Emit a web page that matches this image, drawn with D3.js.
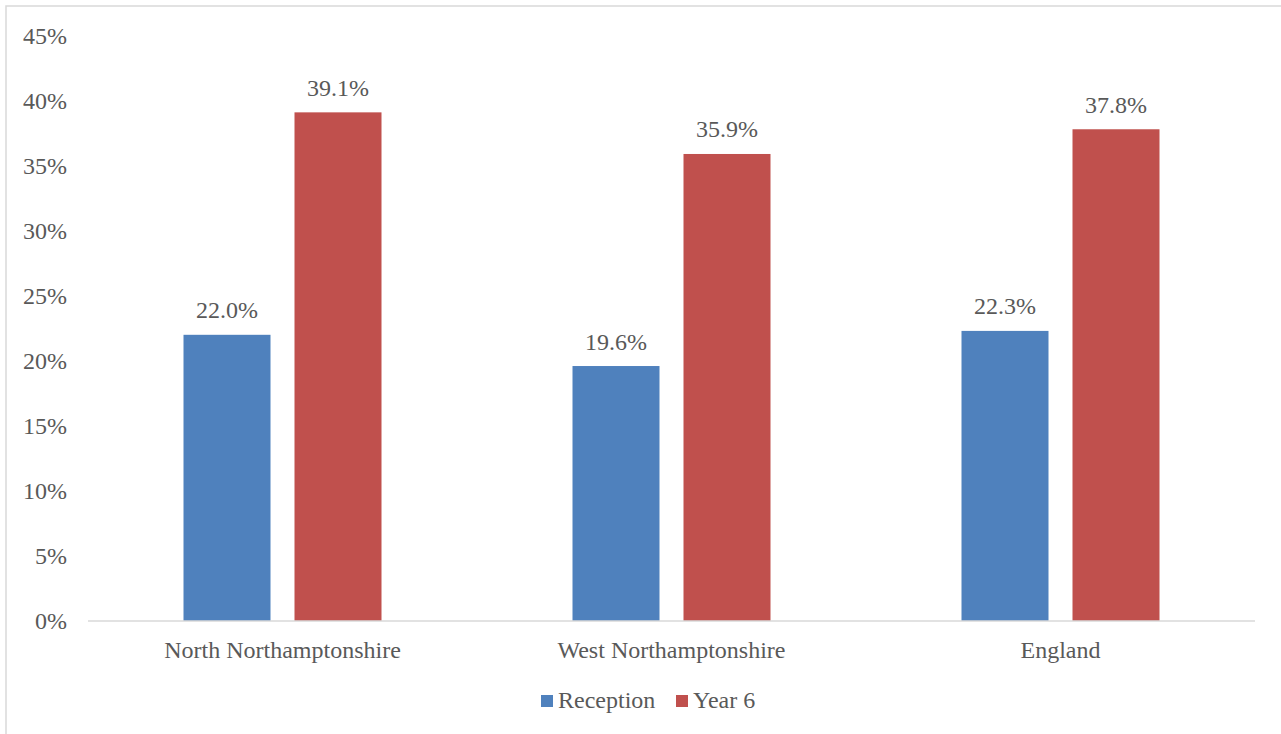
<!DOCTYPE html>
<html>
<head>
<meta charset="utf-8">
<script src="https://cdn.jsdelivr.net/npm/d3@7"></script>
<style>
  html, body { margin: 0; padding: 0; background: #fff; }
  svg { display: block; }
  text { font-family: "Liberation Serif", "Times New Roman", serif; fill: #595959; }
</style>
</head>
<body>
<svg id="chart" width="1281" height="734"></svg>
<script>
const categories = ["North Northamptonshire", "West Northamptonshire", "England"];
const seriesNames = ["Reception", "Year 6"];
const reception = [22.0, 19.6, 22.3];
const year6 = [39.1, 35.9, 37.8];
const yTicks = [0, 5, 10, 15, 20, 25, 30, 35, 40, 45];
const colors = ["#4F81BD", "#C0504D"];

const svg = d3.select("#chart");
const W = 1281, H = 734;

// outer border
svg.append("rect").attr("x", 6).attr("y", 6).attr("width", W + 10).attr("height", H + 10)
  .attr("fill", "none").attr("stroke", "#d9d9d9").attr("stroke-width", 1.5);

const plot = { left: 88, right: 1255, top: 35.6, bottom: 621 };

const x = d3.scaleBand().domain(categories).range([plot.left, plot.right]).paddingInner(0).paddingOuter(0);
const y = d3.scaleLinear().domain([0, 45]).range([plot.bottom, plot.top]);
const barW = 87, gap = 24;
const groupW = 2 * barW + gap;
const xs = d3.scaleBand().domain(seriesNames).range([0, groupW])
  .paddingInner(gap / (barW + gap)).paddingOuter(0);

const data = categories.map((c, i) => ({ cat: c, vals: [reception[i], year6[i]] }));

// y tick labels
svg.append("g").selectAll("text").data(yTicks).join("text")
  .attr("x", 67).attr("y", d => y(d)).attr("dy", "0.35em")
  .attr("text-anchor", "end").attr("font-size", 24)
  .text(d => d + "%");

// bars
const groups = svg.append("g").selectAll("g").data(data).join("g")
  .attr("transform", d => `translate(${x(d.cat) + (x.bandwidth() - groupW) / 2},0)`);

groups.selectAll("rect").data(d => d.vals.map((v, j) => ({ v, s: seriesNames[j], j }))).join("rect")
  .attr("x", d => xs(d.s)).attr("width", xs.bandwidth())
  .attr("y", d => y(d.v)).attr("height", d => y(0) - y(d.v))
  .attr("fill", d => colors[d.j]);

groups.selectAll("text.val").data(d => d.vals.map((v, j) => ({ v, s: seriesNames[j] }))).join("text")
  .attr("class", "val")
  .attr("x", d => xs(d.s) + xs.bandwidth() / 2)
  .attr("y", d => y(d.v) - 16.5)
  .attr("text-anchor", "middle").attr("font-size", 24)
  .text(d => d.v.toFixed(1) + "%");

// x axis line
svg.append("line").attr("x1", plot.left).attr("x2", plot.right)
  .attr("y1", y(0)).attr("y2", y(0)).attr("stroke", "#d9d9d9").attr("stroke-width", 1.5);

// x labels
svg.append("g").selectAll("text").data(categories).join("text")
  .attr("x", d => x(d) + x.bandwidth() / 2).attr("y", 658)
  .attr("text-anchor", "middle").attr("font-size", 24)
  .text(d => d);

// legend
const legendItems = [
  { name: seriesNames[0], color: colors[0], sx: 541, tx: 558 },
  { name: seriesNames[1], color: colors[1], sx: 676, tx: 693 }
];
const lg = svg.append("g");
lg.selectAll("rect").data(legendItems).join("rect")
  .attr("x", d => d.sx).attr("y", 695).attr("width", 12).attr("height", 12)
  .attr("fill", d => d.color);
lg.selectAll("text").data(legendItems).join("text")
  .attr("x", d => d.tx).attr("y", 708).attr("font-size", 24)
  .text(d => d.name);
</script>
</body>
</html>
